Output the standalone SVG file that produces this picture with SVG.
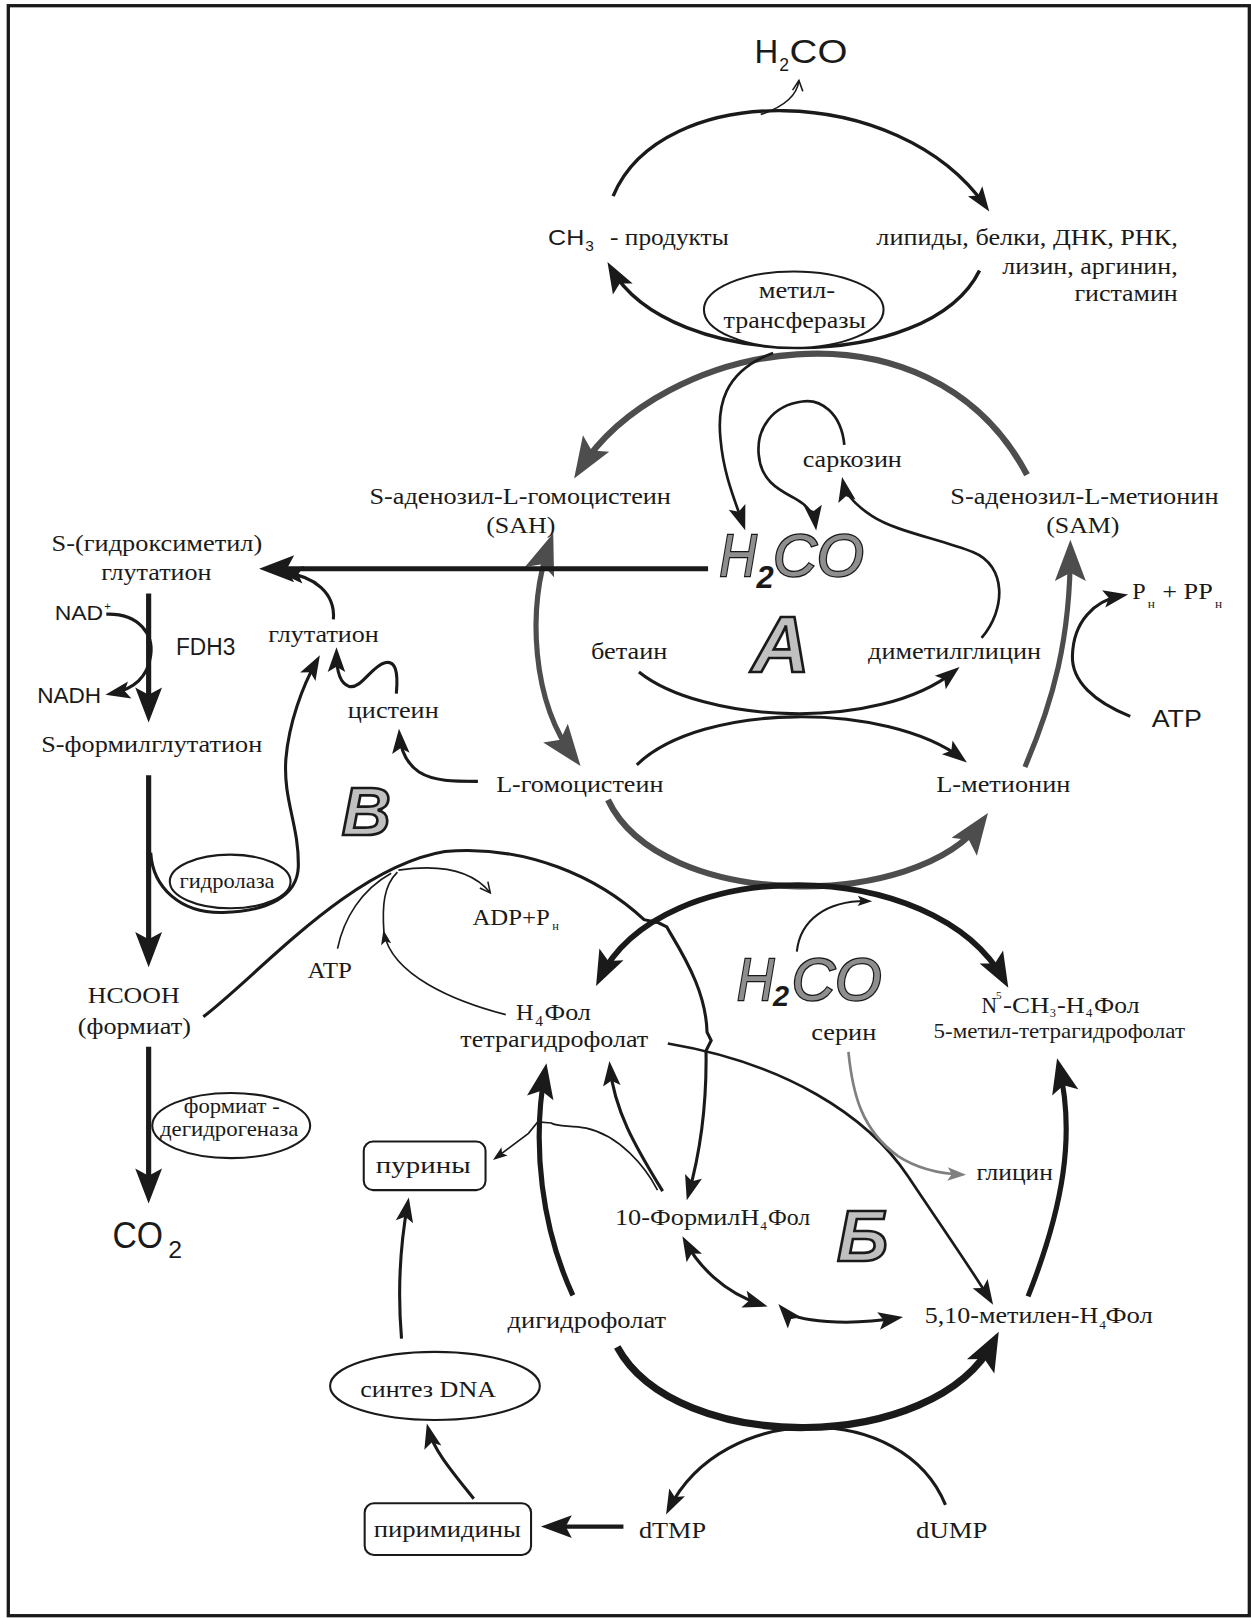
<svg xmlns="http://www.w3.org/2000/svg" width="1251" height="1618" viewBox="0 0 1251 1618">
<style>
.s{font-family:"Liberation Serif","Times New Roman",serif;fill:#1a1a1a}
.a{font-family:"Liberation Sans",Arial,sans-serif;fill:#1a1a1a}
.ln{fill:none;stroke:#1a1a1a;stroke-width:3}
.th{fill:none;stroke:#1a1a1a;stroke-width:5}
.tn{fill:none;stroke:#1a1a1a;stroke-width:1.6}
.gr{fill:none;stroke:#4d4d4d;stroke-width:6}
.box{fill:#fff;stroke:#1a1a1a;stroke-width:2}
.lt{font-family:"Liberation Sans",Arial,sans-serif;font-weight:bold;font-style:italic;fill:#c0c0c0;stroke:#1a1a1a;stroke-width:2.6}
.ho{font-family:"Liberation Sans",Arial,sans-serif;font-style:italic;fill:#8e8e8e;stroke:#1a1a1a;stroke-width:2.4;paint-order:stroke}
.h2{font-family:"Liberation Sans",Arial,sans-serif;font-weight:bold;font-style:italic;fill:#1a1a1a}
</style>
<defs>
<marker id="mb" markerUnits="userSpaceOnUse" markerWidth="34" markerHeight="26" refX="26" refY="13" orient="auto-start-reverse" overflow="visible"><path d="M0,0 L34,13 L0,26 L7,13 z" fill="#1a1a1a"/></marker>
<marker id="mb2" markerUnits="userSpaceOnUse" markerWidth="38" markerHeight="30" refX="28" refY="15" orient="auto-start-reverse" overflow="visible"><path d="M0,0 L38,15 L0,30 L8,15 z" fill="#1a1a1a"/></marker>
<marker id="ml" markerUnits="userSpaceOnUse" markerWidth="30" markerHeight="22" refX="23" refY="11" orient="auto-start-reverse" overflow="visible"><path d="M0,0 L30,11 L0,22 L6,11 z" fill="#1a1a1a"/></marker>
<marker id="mm" markerUnits="userSpaceOnUse" markerWidth="24" markerHeight="17" refX="18" refY="8.5" orient="auto-start-reverse" overflow="visible"><path d="M0,0 L24,8.5 L0,17 L5,8.5 z" fill="#1a1a1a"/></marker>
<marker id="ms" markerUnits="userSpaceOnUse" markerWidth="14" markerHeight="10" refX="11" refY="5" orient="auto-start-reverse" overflow="visible"><path d="M0,0 L14,5 L0,10 L3,5 z" fill="#1a1a1a"/></marker>
<marker id="mo" markerUnits="userSpaceOnUse" markerWidth="12" markerHeight="12" refX="10" refY="5" orient="auto-start-reverse" overflow="visible"><path d="M0,0 L10,5 L0,10" fill="none" stroke="#1a1a1a" stroke-width="1.5"/></marker>
<marker id="mg" markerUnits="userSpaceOnUse" markerWidth="40" markerHeight="30" refX="31" refY="15" orient="auto-start-reverse" overflow="visible"><path d="M0,0 L40,15 L0,30 L8,15 z" fill="#4d4d4d"/></marker>
<marker id="mlg" markerUnits="userSpaceOnUse" markerWidth="18" markerHeight="13" refX="14" refY="6.5" orient="auto-start-reverse" overflow="visible"><path d="M0,0 L18,6.5 L0,13 L4,6.5 z" fill="#808080"/></marker>
</defs>
<rect x="8.3" y="5.7" width="1241" height="1610" fill="#fff" stroke="#1a1a1a" stroke-width="3.3"/>
<g transform="scale(1.03218)" font-size="23">
<g id="connectors">
<path class="ln" style="stroke-width:3.3" d="M594 190 C640 78,870 78,955 200" marker-end="url(#mm)"/>
<path class="tn" d="M737 111 C755 105,772 95,774 78" marker-end="url(#mo)"/>
<path class="ln" style="stroke-width:3.4" d="M949 262 C900 362,650 362,592 260" marker-end="url(#ml)"/>
<path class="gr" d="M995 460 C900 280,640 330,561 456" marker-end="url(#mg)"/>
<path class="gr" style="stroke-width:5" d="M533 525 C510 590,515 680,557 735" marker-start="url(#mg)" marker-end="url(#mg)"/>
<path class="gr" d="M589 775 C640 883,890 883,952 795" marker-end="url(#mg)"/>
<path class="gr" style="stroke-width:5" d="M993 743 C1020 680,1037 620,1037 532" marker-end="url(#mg)"/>
<path class="ln" style="stroke-width:2.6" d="M749 342 C700 360,695 395,698 425 C701 460,712 485,720 508" marker-end="url(#mm)"/>
<path class="ln" style="stroke-width:2.6" d="M818 431 C815 400,795 386,777 389 C748 393,733 415,735 440 C737 468,758 476,772 484 C783 490,789 500,790 508" marker-end="url(#mm)"/>
<path class="ln" style="stroke-width:2.6" d="M951 618 C975 590,975 548,943 535 C910 522,868 515,845 500 C828 489,819 478,817 468" marker-end="url(#mm)"/>
<path class="ln" d="M619 651 C680 700,850 710,925 650" marker-end="url(#mm)"/>
<path class="ln" d="M617 741 C680 680,860 680,932 735" marker-end="url(#mm)"/>
<path class="ln" d="M1095 694 C1060 680,1038 660,1039 635 C1040 602,1060 582,1087 577" marker-end="url(#mm)"/>
<path class="th" d="M686 551 L259 551" marker-end="url(#mb)"/>
<path class="ln" d="M323 600 C325 575,305 558,276 555" marker-end="url(#mm)"/>
<path class="th" d="M144 575 L144 692" marker-end="url(#mb)"/>
<path class="ln" d="M103 595 C135 594,149 615,146 635 C143 657,128 668,108 672" marker-end="url(#mm)"/>
<path class="th" d="M144 751 L144 929" marker-end="url(#mb)"/>
<path class="th" d="M144 1014 L144 1158" marker-end="url(#mb)"/>
<path class="ln" d="M146 826 C148 860,175 885,216 884 C260 883,288 868,289 840 C290 800,274 775,277 735 C280 700,293 665,307 640" marker-end="url(#mm)"/>
<path class="ln" d="M384 672 C386 650,383 640,373 642 C360 645,350 668,338 665 C329 662,326 648,326 633" marker-end="url(#mm)"/>
<path class="ln" d="M463 757 C440 757,420 757,406 748 C393 739,388 725,387 712" marker-end="url(#mm)"/>
<path class="ln" d="M197 985 C250 945,340 840,431 825 C510 818,580 850,624 891 L638 894 L646 898 L650 905 C668 935,684 965,685 1000 L689 1008 L684 1018 C685 1080,676 1125,667 1157" marker-end="url(#mm)"/>
<path class="tn" d="M327 919 C333 890,350 862,379 846"/>
<path class="tn" d="M386 843 C420 838,455 840,475 865" marker-end="url(#mo)"/>
<path class="tn" d="M490 983 C440 970,380 945,372 904" marker-end="url(#ms)"/>
<path class="tn" d="M372 904 C370 876,372 858,385 845"/>
<path class="th" style="stroke-width:5.5" d="M581 948 C640 827,905 827,973 950" marker-start="url(#mb)" marker-end="url(#mb)"/>
<path class="tn" style="stroke-width:2" d="M772 922 C775 892,800 872,842 873" marker-end="url(#ms)"/>
<path class="ln" style="stroke-width:2.6" d="M647 1011 C760 1030,840 1080,880 1140 C910 1185,940 1228,959 1259" marker-end="url(#mm)"/>
<path fill="none" stroke="#808080" stroke-width="2.6" d="M822 1019 C826 1060,835 1095,870 1120 C890 1133,910 1137,932 1138" marker-end="url(#mlg)"/>
<path class="ln" d="M642 1154 C615 1110,595 1075,591 1034" marker-end="url(#mm)"/>
<path class="tn" d="M637 1153 C625 1130,600 1100,568 1093 C552 1090,540 1092,534 1088 L521 1087 L512 1098 L480 1122" marker-end="url(#ms)"/>
<path class="th" d="M555 1255 C525 1190,515 1110,528 1038" marker-end="url(#mb)"/>
<path class="th" d="M996 1256 C1030 1170,1042 1100,1026 1033" marker-end="url(#mb)"/>
<path class="ln" d="M664 1203 C676 1225,700 1252,738 1264" marker-start="url(#mm)" marker-end="url(#mm)"/>
<path class="ln" d="M758 1268 C770 1282,825 1284,869 1277" marker-start="url(#mm)" marker-end="url(#mm)"/>
<path class="th" style="stroke-width:7" d="M598 1305 C655 1410,905 1410,963 1299" marker-end="url(#mb2)"/>
<path class="ln" d="M916 1458 C875 1357,700 1357,648 1462" marker-end="url(#mm)"/>
<path class="th" style="stroke-width:4" d="M604 1479 L531 1479" marker-end="url(#ml)"/>
<path class="ln" d="M459 1452 C440 1428,420 1405,415 1385" marker-end="url(#mm)"/>
<path class="ln" d="M389 1297 C385 1250,388 1205,395 1166" marker-end="url(#mm)"/>
</g>

<g id="h2co-top"><text class="a" font-size="32" x="731" y="61" textLength="23" lengthAdjust="spacingAndGlyphs">H</text><text class="a" font-size="17" x="755" y="69">2</text><text class="a" font-size="32" x="765" y="61" textLength="56" lengthAdjust="spacingAndGlyphs">CO</text></g>
<g id="ch3"><text class="a" font-size="21" x="531" y="237" textLength="35" lengthAdjust="spacingAndGlyphs">CH</text><text class="a" font-size="15" x="567" y="243">3</text><text class="s" x="591" y="237" textLength="115" lengthAdjust="spacingAndGlyphs">- продукты</text></g>
<g id="lipids"><text class="s" x="849" y="237" textLength="292" lengthAdjust="spacingAndGlyphs">липиды, белки, ДНК, РНК,</text><text class="s" x="971" y="265" textLength="170" lengthAdjust="spacingAndGlyphs">лизин, аргинин,</text><text class="s" x="1041" y="292" textLength="100" lengthAdjust="spacingAndGlyphs">гистамин</text></g>
<g id="methyltransferases"><ellipse cx="769" cy="300" rx="87" ry="37" class="box"/><text class="s" x="735" y="289" textLength="74" lengthAdjust="spacingAndGlyphs">метил-</text><text class="s" x="701" y="318" textLength="138" lengthAdjust="spacingAndGlyphs">трансферазы</text></g>
<g id="sah"><text class="s" x="358" y="488" textLength="292" lengthAdjust="spacingAndGlyphs">S-аденозил-L-гомоцистеин</text><text class="s" x="471" y="516.5" textLength="67" lengthAdjust="spacingAndGlyphs">(SAH)</text></g>
<g id="sam"><text class="s" x="920.6" y="488" textLength="260" lengthAdjust="spacingAndGlyphs">S-аденозил-L-метионин</text><text class="s" x="1013.6" y="516.7" textLength="71" lengthAdjust="spacingAndGlyphs">(SAM)</text></g>
<g id="sarcosine"><text class="s" x="777.7" y="452" textLength="96" lengthAdjust="spacingAndGlyphs">саркозин</text></g>
<g id="h2co-a"><text class="ho" font-size="58" x="697" y="558.5" textLength="36" lengthAdjust="spacingAndGlyphs">H</text><text class="h2" font-size="30" x="733" y="570">2</text><text class="ho" font-size="58" x="749" y="558.5" textLength="88" lengthAdjust="spacingAndGlyphs">CO</text></g>
<g id="letter-a"><text class="lt" font-size="78" x="728" y="651">A</text></g>
<g id="betaine"><text class="s" x="572.6" y="638" textLength="74" lengthAdjust="spacingAndGlyphs">бетаин</text></g>
<g id="dmg"><text class="s" x="841" y="638" textLength="167.6" lengthAdjust="spacingAndGlyphs">диметилглицин</text></g>
<g id="pi"><text class="s" x="1097" y="580" textLength="13" lengthAdjust="spacingAndGlyphs">P</text><text class="s" font-size="13" x="1112" y="589">н</text><text class="s" x="1126" y="580" textLength="49" lengthAdjust="spacingAndGlyphs">+ PP</text><text class="s" font-size="13" x="1177" y="589">н</text></g>
<g id="atp-r"><text class="a" font-size="23" x="1115.8" y="704" textLength="48.6" lengthAdjust="spacingAndGlyphs">ATP</text></g>
<g id="homocysteine"><text class="s" x="480.7" y="767" textLength="162" lengthAdjust="spacingAndGlyphs">L-гомоцистеин</text></g>
<g id="methionine"><text class="s" x="907" y="767" textLength="130" lengthAdjust="spacingAndGlyphs">L-метионин</text></g>
<g id="cysteine"><text class="s" x="337" y="696" textLength="88" lengthAdjust="spacingAndGlyphs">цистеин</text></g>
<g id="glutathione"><text class="s" x="260" y="621.7" textLength="107" lengthAdjust="spacingAndGlyphs">глутатион</text></g>
<g id="hmg"><text class="s" x="50" y="534" textLength="204" lengthAdjust="spacingAndGlyphs">S-(гидроксиметил)</text><text class="s" x="98" y="562" textLength="107" lengthAdjust="spacingAndGlyphs">глутатион</text></g>
<g id="nad"><text class="a" font-size="20" x="53" y="601" textLength="47" lengthAdjust="spacingAndGlyphs">NAD</text><text class="a" font-size="11" x="101" y="591">+</text></g>
<g id="fdh3"><text class="a" font-size="23" x="170.5" y="635" textLength="57.5" lengthAdjust="spacingAndGlyphs">FDH3</text></g>
<g id="nadh"><text class="a" font-size="21" x="36" y="681" textLength="62" lengthAdjust="spacingAndGlyphs">NADH</text></g>
<g id="sfg"><text class="s" x="40" y="729" textLength="214" lengthAdjust="spacingAndGlyphs">S-формилглутатион</text></g>
<g id="hydrolase"><ellipse cx="223" cy="854" rx="58.5" ry="26" class="box"/><text class="s" font-size="21" x="174" y="860" textLength="92" lengthAdjust="spacingAndGlyphs">гидролаза</text></g>
<g id="letter-v"><text class="lt" font-size="66" x="331" y="809">В</text></g>
<g id="formate"><text class="s" x="85" y="971.5" textLength="89" lengthAdjust="spacingAndGlyphs">HCOOH</text><text class="s" x="75.4" y="1002" textLength="109.6" lengthAdjust="spacingAndGlyphs">(формиат)</text></g>
<g id="fdh"><ellipse cx="224" cy="1090.5" rx="76.5" ry="31.5" class="box"/><text class="s" font-size="21" x="178" y="1078.7" textLength="93" lengthAdjust="spacingAndGlyphs">формиат -</text><text class="s" font-size="21" x="155" y="1101" textLength="134" lengthAdjust="spacingAndGlyphs">дегидрогеназа</text></g>
<g id="co2"><text class="a" font-size="35" x="109" y="1209" textLength="49" lengthAdjust="spacingAndGlyphs">CO</text><text class="a" font-size="24" x="163" y="1219">2</text></g>
<g id="atp-l"><text class="s" x="298" y="947.7" textLength="43" lengthAdjust="spacingAndGlyphs">ATP</text></g>
<g id="adp"><text class="s" x="457.7" y="896" textLength="75" lengthAdjust="spacingAndGlyphs">ADP+P</text><text class="s" font-size="12" x="535" y="901">н</text></g>
<g id="h4fol"><text class="s" x="500" y="988.4" textLength="17" lengthAdjust="spacingAndGlyphs">H</text><text class="s" font-size="15" x="518.5" y="994">4</text><text class="s" x="527.5" y="988.4" textLength="45" lengthAdjust="spacingAndGlyphs">Фол</text><text class="s" x="446" y="1014" textLength="182" lengthAdjust="spacingAndGlyphs">тетрагидрофолат</text></g>
<g id="h2co-b"><text class="ho" font-size="58" x="714" y="969" textLength="36" lengthAdjust="spacingAndGlyphs">H</text><text class="h2" font-size="28" x="749" y="975">2</text><text class="ho" font-size="58" x="767" y="969" textLength="87" lengthAdjust="spacingAndGlyphs">CO</text></g>
<g id="serine"><text class="s" x="786" y="1008" textLength="63" lengthAdjust="spacingAndGlyphs">серин</text></g>
<g id="n5"><text class="s" x="950.8" y="981.6" textLength="15" lengthAdjust="spacingAndGlyphs">N</text><text class="s" font-size="11" x="965" y="968">5</text><text class="s" x="971.7" y="981.6" textLength="45" lengthAdjust="spacingAndGlyphs">-CH</text><text class="s" font-size="12" x="1017" y="985">3</text><text class="s" x="1024" y="981.6" textLength="27" lengthAdjust="spacingAndGlyphs">-H</text><text class="s" font-size="13" x="1052" y="985">4</text><text class="s" x="1060" y="981.6" textLength="44" lengthAdjust="spacingAndGlyphs">Фол</text><text class="s" font-size="20" x="904.4" y="1005.5" textLength="243.6" lengthAdjust="spacingAndGlyphs">5-метил-тетрагидрофолат</text></g>
<g id="glycine"><text class="s" x="946" y="1143" textLength="74" lengthAdjust="spacingAndGlyphs">глицин</text></g>
<g id="purines"><rect x="352.4" y="1106" width="118" height="47" rx="9" class="box"/><text class="s" x="364" y="1136.6" textLength="92" lengthAdjust="spacingAndGlyphs">пурины</text></g>
<g id="formyl"><text class="s" x="595.8" y="1186.8" textLength="140" lengthAdjust="spacingAndGlyphs">10-ФормилH</text><text class="s" font-size="13" x="736.5" y="1192">4</text><text class="s" x="744" y="1186.8" textLength="41" lengthAdjust="spacingAndGlyphs">Фол</text></g>
<g id="letter-b"><text class="lt" font-size="70" x="811" y="1222">Б</text></g>
<g id="methylene"><text class="s" x="896" y="1282" textLength="168" lengthAdjust="spacingAndGlyphs">5,10-метилен-H</text><text class="s" font-size="13" x="1065" y="1288">4</text><text class="s" x="1071" y="1282" textLength="46" lengthAdjust="spacingAndGlyphs">Фол</text></g>
<g id="dihydrofolate"><text class="s" x="491.8" y="1287" textLength="153.5" lengthAdjust="spacingAndGlyphs">дигидрофолат</text></g>
<g id="dna"><ellipse cx="421.4" cy="1342.7" rx="101.6" ry="33" class="box"/><text class="s" x="349" y="1353" textLength="131.5" lengthAdjust="spacingAndGlyphs">синтез DNA</text></g>
<g id="pyrimidines"><rect x="353.3" y="1456.4" width="161.2" height="50.1" rx="9" class="box"/><text class="s" x="362" y="1488.8" textLength="142.8" lengthAdjust="spacingAndGlyphs">пиримидины</text></g>
<g id="dtmp"><text class="s" x="619" y="1490" textLength="65" lengthAdjust="spacingAndGlyphs">dTMP</text></g>
<g id="dump"><text class="s" x="887.5" y="1490" textLength="69" lengthAdjust="spacingAndGlyphs">dUMP</text></g>
</g>
</svg>
